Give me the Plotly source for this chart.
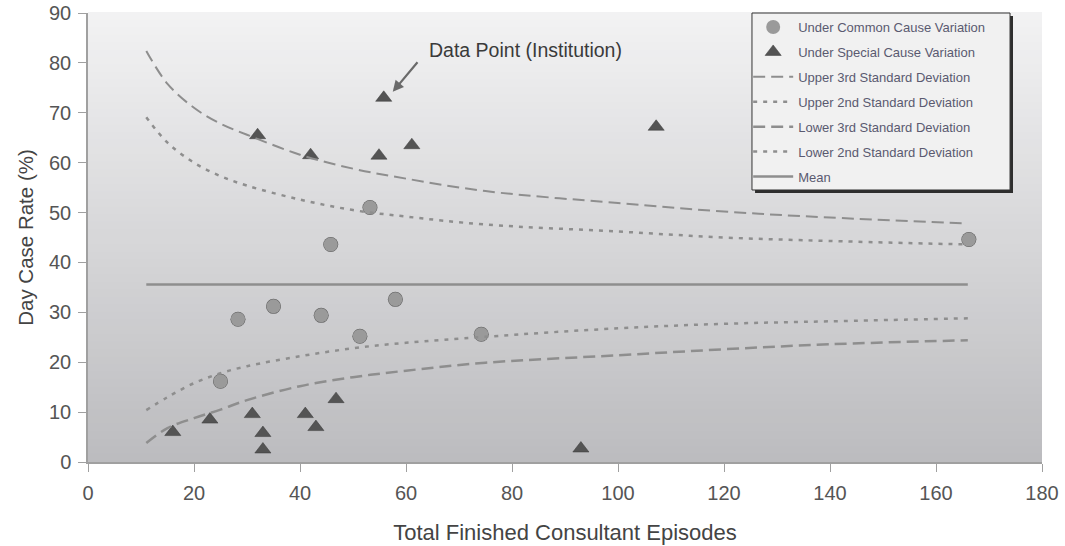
import plotly.graph_objects as go

# --- data ---
common_x = [25, 28.3, 35, 44, 45.8, 51.3, 53.2, 58, 74.2, 166.2]
common_y = [16.2, 28.6, 31.2, 29.4, 43.6, 25.2, 51.0, 32.6, 25.6, 44.6]

special_x = [16, 23, 31, 32, 33, 33, 41, 42, 43, 46.8, 54.9, 55.8, 61.1, 93, 107.2]
special_y = [6.0, 8.5, 9.6, 65.5, 5.8, 2.5, 9.6, 61.5, 7.0, 12.6, 61.4, 73.0, 63.5, 2.7, 67.2]

limit_x = [11, 15, 20, 25, 30, 40, 50, 60, 75, 100, 120, 140, 166]
upper3_y = [82.4, 75.8, 71.0, 67.8, 65.6, 61.6, 58.8, 56.8, 54.3, 51.9, 50.2, 49.0, 47.8]
upper2_y = [69.1, 64.0, 60.0, 57.3, 55.4, 52.6, 50.5, 49.2, 47.6, 46.2, 45.0, 44.3, 43.6]
lower3_y = [3.8, 6.8, 8.8, 10.5, 12.4, 15.2, 17.0, 18.3, 19.9, 21.4, 22.6, 23.6, 24.4]
lower2_y = [10.4, 13.0, 15.8, 17.8, 19.2, 21.2, 22.8, 23.9, 25.1, 26.8, 27.7, 28.2, 28.8]
mean_x = [11, 166]
mean_y = [35.6, 35.6]

x_ticks = [0, 20, 40, 60, 80, 100, 120, 140, 160, 180]
y_ticks = [0, 10, 20, 30, 40, 50, 60, 70, 80, 90]

FONT = "Liberation Sans, Arial, sans-serif"
LINE = "#8e8e8e"

fig = go.Figure()

# gradient background as stacked bands
n = 60
top = (242, 242, 243)
bot = (188, 188, 191)
for i in range(n):
    t = i / (n - 1)
    c = tuple(round(top[k] + (bot[k] - top[k]) * t) for k in range(3))
    fig.add_shape(type="rect", xref="x domain", yref="y domain",
                  x0=0, x1=1, y0=1 - (i + 1) / n, y1=1 - i / n + 0.002,
                  fillcolor="rgb(%d,%d,%d)" % c, line=dict(width=0), layer="below")

# marker shadows
fig.add_trace(go.Scatter(x=common_x, y=common_y, mode="markers", showlegend=False,
                         hoverinfo="skip",
                         marker=dict(symbol="circle", size=15, color="#5e5e5e",
                                     line=dict(width=0))))

fig.add_trace(go.Scatter(x=common_x, y=common_y, mode="markers",
                         name="Under Common Cause Variation", legendgroup="a",
                         marker=dict(symbol="circle", size=14, color="#9a9a9a",
                                     line=dict(width=0))))
fig.add_trace(go.Scatter(x=special_x, y=special_y, mode="markers",
                         name="Under Special Cause Variation", legendgroup="b",
                         marker=dict(symbol="triangle-up", size=14, color="#545454",
                                     line=dict(width=0.5, color="#3a3a3a"))))
fig.add_trace(go.Scatter(x=limit_x, y=upper3_y, mode="lines", line_shape="spline",
                         name="Upper 3rd Standard Deviation", legendgroup="c",
                         line=dict(color=LINE, width=2, dash="12px,6px")))
fig.add_trace(go.Scatter(x=limit_x, y=upper2_y, mode="lines", line_shape="spline",
                         name="Upper 2nd Standard Deviation", legendgroup="d",
                         line=dict(color=LINE, width=2.5, dash="4px,6px")))
fig.add_trace(go.Scatter(x=limit_x, y=lower3_y, mode="lines", line_shape="spline",
                         name="Lower 3rd Standard Deviation", legendgroup="e",
                         line=dict(color=LINE, width=2.5, dash="12px,6px")))
fig.add_trace(go.Scatter(x=limit_x, y=lower2_y, mode="lines", line_shape="spline",
                         name="Lower 2nd Standard Deviation", legendgroup="f",
                         line=dict(color=LINE, width=2.5, dash="4px,6px")))
fig.add_trace(go.Scatter(x=mean_x, y=mean_y, mode="lines", name="Mean", legendgroup="g",
                         line=dict(color=LINE, width=2.5)))

# annotation
fig.add_annotation(x=57.5, y=74.2, ax=26, ay=-31, text="", showarrow=True,
                   arrowhead=2, arrowsize=1, arrowwidth=2.2, arrowcolor="#6a6a6a")
fig.add_annotation(x=0.459, y=0.9176, xref="paper", yref="paper", xanchor="center",
                   yanchor="middle", text="Data Point (Institution)", showarrow=False,
                   font=dict(family=FONT, size=19.5, color="#3a3a3a"))

# legend box with shadow
fig.add_shape(type="rect", xref="paper", yref="paper",
              x0=0.6992, x1=0.9696, y0=0.5991, y1=0.9933, fillcolor="#2e2e2e",
              line=dict(width=0), layer="above")
fig.add_shape(type="rect", xref="paper", yref="paper",
              x0=0.6960, x1=0.9665, y0=0.6058, y1=1.0, fillcolor="#f1f1f1",
              line=dict(width=1, color="#333333"), layer="above")

fig.update_layout(
    width=1065, height=546,
    margin=dict(l=88, r=23, t=13, b=84),
    paper_bgcolor="white", plot_bgcolor="rgba(0,0,0,0)",
    font=dict(family=FONT, color="#555555"),
    xaxis=dict(range=[0, 180], tickvals=x_ticks, showgrid=False, zeroline=False,
               showline=True, linecolor="#a0a0a0", linewidth=1.5,
               ticks="outside", ticklen=8, tickcolor="#a0a0a0",
               tickfont=dict(size=20, color="#555555"), automargin=False,
               ticklabelstandoff=4,
               title=dict(text="Total Finished Consultant Episodes",
                          font=dict(size=22, color="#444444"), standoff=22)),
    yaxis=dict(range=[0, 90], tickvals=y_ticks, showgrid=False, zeroline=False,
               showline=True, linecolor="#a0a0a0", linewidth=1.5,
               ticks="outside", ticklen=8, tickcolor="#a0a0a0",
               tickfont=dict(size=20, color="#555555"), automargin=False,
               ticklabelstandoff=3,
               title=dict(text="Day Case Rate (%)",
                          font=dict(size=20.5, color="#444444"), standoff=10)),
    legend=dict(x=0.692, y=1.002, xanchor="left", yanchor="top",
                bgcolor="rgba(0,0,0,0)", borderwidth=0,
                font=dict(family=FONT, size=13, color="#5a5a70"),
                tracegroupgap=5, itemwidth=40),
    showlegend=True,
)

fig.write_html("out.html", post_script="document.body.style.margin='0';",
               config={"displayModeBar": False})
